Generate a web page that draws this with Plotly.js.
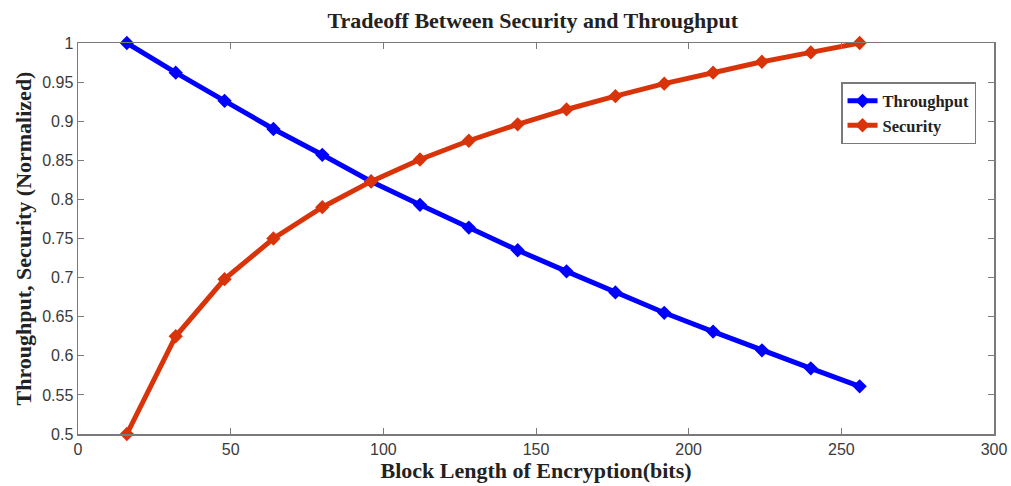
<!DOCTYPE html>
<html>
<head>
<meta charset="utf-8">
<script src="https://cdn.plot.ly/plotly-3.0.1.min.js"></script>
<style>html,body{margin:0;padding:0;background:#fff;}#chart{width:1011px;height:486px;}</style>
</head>
<body>
<div id="chart"></div>
<script>
const blockLength = [16, 32, 48, 64, 80, 96, 112, 128, 144, 160, 176, 192, 208, 224, 240, 256];
const throughput = [1.0, 0.962, 0.926, 0.890, 0.857, 0.823, 0.793, 0.764, 0.735, 0.708, 0.681, 0.655, 0.631, 0.607, 0.584, 0.561];
const security = [0.5, 0.625, 0.698, 0.750, 0.790, 0.823, 0.851, 0.875, 0.896, 0.915, 0.932, 0.948, 0.962, 0.976, 0.988, 1.0];
const xTicks = [0, 50, 100, 150, 200, 250, 300];
const yTicks = [0.5, 0.55, 0.6, 0.65, 0.7, 0.75, 0.8, 0.85, 0.9, 0.95, 1];
const yTickText = ['0.5', '0.55', '0.6', '0.65', '0.7', '0.75', '0.8', '0.85', '0.9', '0.95', '1'];

const serif = 'Liberation Serif, Times New Roman, serif';
const sans = 'Liberation Sans, Arial, sans-serif';

const traces = [
  {x: blockLength, y: throughput, name: 'Throughput', mode: 'lines+markers', cliponaxis: false,
   line: {color: '#0000ff', width: 5}, marker: {symbol: 'diamond', size: 11, color: '#0000ff'}},
  {x: blockLength, y: security, name: 'Security', mode: 'lines+markers', cliponaxis: false,
   line: {color: '#d9330a', width: 5}, marker: {symbol: 'diamond', size: 11, color: '#d9330a'}}
];

const axisCommon = {
  showgrid: false, zeroline: false, showline: true, mirror: 'ticks',
  linecolor: '#7a7a7a', linewidth: 1.5, ticks: 'inside', ticklen: 6, tickcolor: '#7a7a7a',
  tickfont: {family: sans, size: 16, color: '#3a3a3a'}
};

const layout = {
  width: 1011, height: 486,
  margin: {l: 78, r: 17, t: 43, b: 52},
  paper_bgcolor: '#fff', plot_bgcolor: '#fff',
  showlegend: true,
  title: {text: 'Tradeoff Between Security and Throughput', x: 0.527, xanchor: 'center', y: 0.958, yanchor: 'middle',
          font: {family: serif, size: 22, color: '#222', weight: 'bold'}},
  xaxis: Object.assign({}, axisCommon, {
    range: [0, 300], tickvals: xTicks, ticktext: xTicks.map(String),
    title: {text: 'Block Length of Encryption(bits)', standoff: 4, font: {family: serif, size: 22, color: '#222', weight: 'bold'}}
  }),
  yaxis: Object.assign({}, axisCommon, {
    range: [0.5, 1], tickvals: yTicks, ticktext: yTickText,
    title: {text: 'Throughput, Security (Normalized)', standoff: 4, font: {family: serif, size: 22, color: '#222', weight: 'bold'}}
  }),
  legend: {x: 0.833, y: 0.9, xanchor: 'left', yanchor: 'top', bgcolor: '#fff',
           bordercolor: '#7a7a7a', borderwidth: 1.5,
           font: {family: serif, size: 16.5, color: '#222', weight: 'bold'},
           itemwidth: 30, tracegroupgap: 0}
};

Plotly.newPlot('chart', traces, layout, {displayModeBar: false, staticPlot: true});
</script>
</body>
</html>
